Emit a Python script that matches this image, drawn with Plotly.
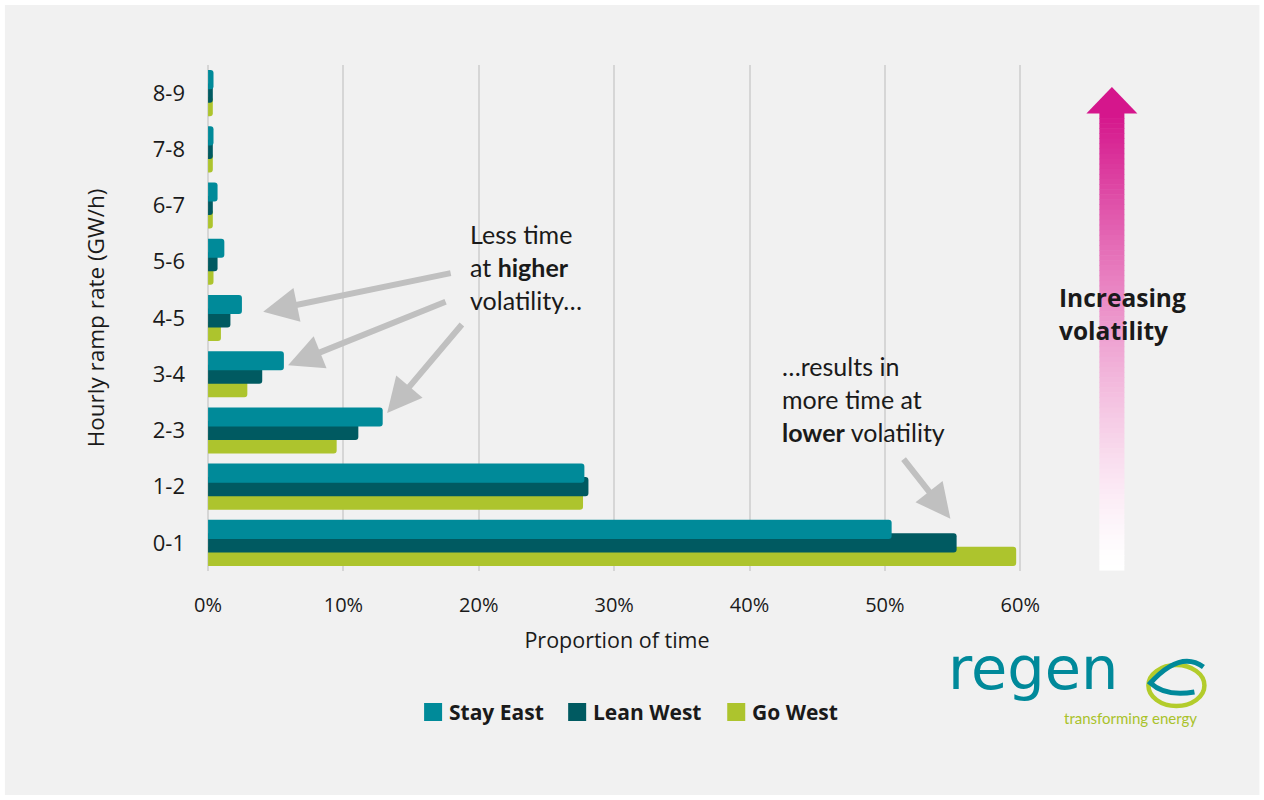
import plotly.graph_objects as go

# Hourly ramp-rate bands (GW/h), bottom to top
categories = ["0-1", "1-2", "2-3", "3-4", "4-5", "5-6", "6-7", "7-8", "8-9"]

# Share of the year spent in each band (%)
stay_east = [50.5, 27.8, 12.9, 5.6, 2.5, 1.2, 0.7, 0.4, 0.4]
lean_west = [55.3, 28.1, 11.1, 4.0, 1.65, 0.7, 0.35, 0.35, 0.35]
go_west = [59.7, 27.7, 9.5, 2.9, 0.95, 0.4, 0.35, 0.35, 0.35]

x_ticks = [0, 10, 20, 30, 40, 50, 60]
x_tick_labels = ["0%", "10%", "20%", "30%", "40%", "50%", "60%"]

series_colors = {"Stay East": "#008a99", "Lean West": "#005a61", "Go West": "#adc42d"}

FONT = "Open Sans"
NOTE_FONT = "Lato"
TEXT = "#1a1a1a"

W, H = 1264, 800
L, T = 207, 65
X_MIN, X_MAX = -0.08, 60.5
PX_PER_UNIT = 13.53
PLOT_W = (X_MAX - X_MIN) * PX_PER_UNIT
PLOT_H = 506
R = W - L - PLOT_W
B = H - T - PLOT_H


def pxx(x):
    return (x - L) / PLOT_W


def pxy(y):
    return (T + PLOT_H - y) / PLOT_H


fig = go.Figure()

# Bars are layered in depth: Go West at the back, Stay East in front
bar_w = 0.34
offsets = {"Stay East": 0.07, "Lean West": -0.17, "Go West": -0.41}
values = {"Stay East": stay_east, "Lean West": lean_west, "Go West": go_west}
for name in ["Go West", "Lean West", "Stay East"]:
    fig.add_trace(go.Bar(
        y=categories, x=values[name], orientation="h", name=name,
        width=bar_w, offset=offsets[name],
        marker=dict(color=series_colors[name], line=dict(width=0), cornerradius=3),
        showlegend=False,
    ))

shapes = []
annotations = []

# Panel background with thin white frame
shapes.append(dict(type="rect", xref="paper", yref="paper", layer="below",
                   x0=pxx(5), x1=pxx(1259), y0=pxy(795), y1=pxy(5),
                   fillcolor="#f1f1f1", line=dict(width=0)))

# Legend drawn as swatches + labels
legend_items = [("Stay East", 424, 447), ("Lean West", 568, 591), ("Go West", 727, 750)]
for name, sx, tx in legend_items:
    shapes.append(dict(type="rect", xref="paper", yref="paper",
                       x0=pxx(sx), x1=pxx(sx + 18), y0=pxy(721), y1=pxy(703),
                       fillcolor=series_colors[name], line=dict(width=0)))
    annotations.append(dict(text=f"<b>{name}</b>", x=pxx(tx), y=pxy(712),
                            font=dict(family=FONT, size=21, color=TEXT)))

# Gradient "increasing volatility" arrow
top_rgb = (213, 22, 140)
shaft_top, shaft_bot = 113, 570
n_steps = 90
step = (shaft_bot - shaft_top) / n_steps
for i in range(n_steps):
    t = i / (n_steps - 1)
    a = (1 - t) ** 1.35
    c = tuple(round(255 + (v - 255) * a) for v in top_rgb)
    y0 = shaft_top + i * step
    shapes.append(dict(type="rect", xref="paper", yref="paper",
                       x0=pxx(1099), x1=pxx(1124), y0=pxy(y0 + step + 0.6), y1=pxy(y0),
                       fillcolor=f"rgb{c}", line=dict(width=0)))
head = f"M {pxx(1086)},{pxy(113.5)} L {pxx(1137)},{pxy(113.5)} L {pxx(1111.5)},{pxy(87)} Z"
shapes.append(dict(type="path", xref="paper", yref="paper", path=head,
                   fillcolor="rgb(213,22,140)", line=dict(width=0)))

annotations += [
    dict(text="<b>Increasing</b>", x=pxx(1057), y=pxy(297), font=dict(family=FONT, size=24.5, color=TEXT)),
    dict(text="<b>volatility</b>", x=pxx(1057), y=pxy(330), font=dict(family=FONT, size=24.5, color=TEXT)),
]

# Callout text
note_lines = [
    ("Less time", 468, 234), ("at <b>higher</b>", 468, 267), ("volatility…", 468, 300),
    ("…results in", 780, 366), ("more time at", 780, 399), ("<b>lower</b> volatility", 780, 432),
]
for txt, x, y in note_lines:
    annotations.append(dict(text=txt, x=pxx(x), y=pxy(y), font=dict(family=NOTE_FONT, size=25, color=TEXT)))

# Logo
annotations.append(dict(text="regen", x=pxx(946), y=pxy(668),
                        font=dict(family="DejaVu Sans", size=59, color="#00899a")))
annotations.append(dict(text="transforming energy", x=pxx(1062), y=pxy(718),
                        font=dict(family="Lato", size=15, color="#a9c22a")))

for a in annotations:
    a.setdefault("xref", "paper")
    a.setdefault("yref", "paper")
    a.setdefault("xanchor", "left")
    a.setdefault("yanchor", "middle")
    a.setdefault("showarrow", False)

# Callout arrows pointing at the bars
arrow_style = dict(xref="x", yref="y", text="", showarrow=True, arrowhead=2,
                   arrowsize=1.15, arrowwidth=6, arrowcolor="#c0c0c0")
for tip_x, tip_y, ax, ay in [(4.07, 4.11, 189, -39), (5.91, 3.16, 159, -64),
                             (13.23, 2.31, 76, -90), (54.84, 0.43, -48, -61)]:
    annotations.append(dict(x=tip_x, y=tip_y, ax=ax, ay=ay, **arrow_style))

shapes.append(dict(type="circle", xref="paper", yref="paper",
                   x0=pxx(1148), x1=pxx(1204), y0=pxy(706), y1=pxy(665),
                   line=dict(color="#b3cc2b", width=4.5)))
swoosh = (f"M {pxx(1203)},{pxy(667)} Q {pxx(1180)},{pxy(650)} {pxx(1150)},{pxy(683)} "
          f"Q {pxx(1165)},{pxy(697)} {pxx(1194)},{pxy(692)}")
shapes.append(dict(type="path", xref="paper", yref="paper", path=swoosh,
                   line=dict(color="#00899a", width=5)))

fig.update_layout(
    width=W, height=H,
    margin=dict(l=L, r=R, t=T, b=B, pad=0),
    paper_bgcolor="white",
    plot_bgcolor="rgba(0,0,0,0)",
    barmode="overlay",
    showlegend=False,
    shapes=shapes,
    annotations=annotations,
    font=dict(family=FONT, color=TEXT),
)

fig.update_xaxes(
    range=[X_MIN, X_MAX], tickvals=x_ticks, ticktext=x_tick_labels,
    showgrid=True, gridcolor="#d6d6d6", gridwidth=1.5,
    zeroline=False, showline=False, ticks="",
    tickfont=dict(family=FONT, size=20, color=TEXT), ticklabelstandoff=20,
    title=dict(text="Proportion of time", font=dict(family=FONT, size=21.5, color=TEXT), standoff=15),
    automargin=False,
)
fig.update_yaxes(
    type="category", categoryorder="array", categoryarray=categories,
    range=[-0.5, len(categories) - 0.5],
    showgrid=False, zeroline=False, showline=False, ticks="",
    tickfont=dict(family=FONT, size=22, color=TEXT), ticklabelstandoff=21,
    title=dict(text="Hourly ramp rate (GW/h)", font=dict(family=FONT, size=22.5, color=TEXT), standoff=41),
    automargin=False,
)

# Zero reference line behind the bars
fig.add_vline(x=0, line=dict(color="#d6d6d6", width=1.5), layer="below")

fig.write_html("out.html")
